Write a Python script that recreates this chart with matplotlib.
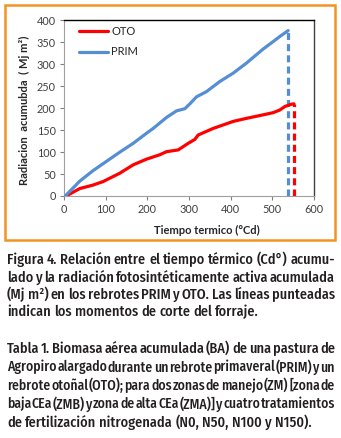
import matplotlib
matplotlib.use("Agg")
import matplotlib.pyplot as plt
from matplotlib.patches import Rectangle

W, H = 341, 438

# ---- data ----
prim_x = [3, 38, 70, 102, 134, 166, 198, 214, 246, 270, 290, 302, 318, 342, 374, 406, 438, 478, 502, 520, 538]
prim_y = [0, 34, 58, 79, 100, 120, 143, 154, 179, 194, 199, 210, 226, 238, 261, 280, 303, 335, 352, 365, 377]
oto_x = [5, 38, 70, 94, 134, 166, 198, 230, 246, 274, 298, 314, 322, 358, 406, 438, 478, 502, 518, 530, 545, 552]
oto_y = [0, 17, 25, 33, 52, 71, 84, 94, 101, 105, 120, 129, 139, 154, 170, 177, 185, 190, 196, 204, 209, 210]
cut_series = ["OTO", "PRIM"]
cut_x = [552, 538]
cut_y = [210, 377]
x_ticks = [0, 100, 200, 300, 400, 500, 600]
y_ticks = [0, 50, 100, 150, 200, 250, 300, 350, 400]

caption1 = [
    "Figura 4. Relación entre el tiempo térmico (Cd°) acumu-",
    "lado y la radiación fotosintéticamente activa acumulada",
    "(Mj m²) en los rebrotes PRIM y OTO. Las líneas punteadas",
    "indican los momentos de corte del forraje.",
]
caption2 = [
    "Tabla 1. Biomasa aérea acumulada (BA) de una pastura de",
    "Agropiro alargado durante un rebrote primaveral (PRIM) y un",
    "rebrote otoñal (OTO); para dos zonas de manejo (ZM) [zona de",
    "baja CEa (ZMB) y zona de alta CEa (ZMA)] y cuatro tratamientos",
    "de fertilización nitrogenada (N0, N50, N100 y N150).",
]

RED = "#FF0000"
BLUE = "#558ED5"
ORANGE = "#F39322"
tickfont = ["Lato", "DejaVu Sans"]

fig = plt.figure(figsize=(W / 100, H / 100), dpi=100)
fig.patch.set_facecolor("white")

# orange border
fig.patches.append(Rectangle((5 / W, 1 - 240 / H), 330 / W, 235 / H,
                             transform=fig.transFigure, fill=False,
                             edgecolor=ORANGE, linewidth=1.8))

ax = fig.add_axes([64 / W, 1 - 196 / H, 250 / W, 175.5 / H])
ax.plot(oto_x, oto_y, color=RED, lw=2.3, solid_capstyle="round", label="OTO", zorder=3)
ax.plot(prim_x, prim_y, color=BLUE, lw=2.3, solid_capstyle="round", label="PRIM", zorder=3)
colors = {"OTO": RED, "PRIM": BLUE}
for s, cx, cy in zip(cut_series, cut_x, cut_y):
    ax.plot([cx, cx], [0, cy], color=colors[s], lw=2.3, ls=(0, (2.2, 1.3)), zorder=2)

ax.set_xlim(0, 600)
ax.set_ylim(0, 400)
ax.set_xticks(x_ticks)
ax.set_yticks(y_ticks)
ax.tick_params(axis="both", colors="#808080", labelcolor="#404040", length=3,
               width=0.8, labelsize=7.8, pad=3)
for lab in ax.get_xticklabels() + ax.get_yticklabels():
    lab.set_family(tickfont)
ax.spines["top"].set_color("black")
ax.spines["top"].set_linewidth(1.0)
ax.spines["right"].set_color("#404040")
ax.spines["right"].set_linewidth(1.0)
ax.spines["left"].set_color("#A0A0A0")
ax.spines["bottom"].set_color("#A0A0A0")

ax.set_xlabel("Tiempo termico (°Cd)", fontsize=8, fontweight="bold",
              family=tickfont, color="#262626")
ax.xaxis.set_label_coords((207 - 64) / 250, -(230 - 196) / 175.5)
ax.xaxis.label.set_va("center")
ax.set_ylabel("Radiacion  acumubda  ( Mj m²)", fontsize=8, fontweight="bold",
              family=tickfont, color="#262626")
ax.yaxis.set_label_coords(-(64 - 24) / 250, 0.49)
ax.yaxis.label.set_va("center")

leg = ax.legend(loc="upper left", bbox_to_anchor=(15 / 250, (196 - 26) / 175.5),
                frameon=False, handlelength=2.6, handletextpad=0.3,
                labelspacing=0.85, borderaxespad=0, borderpad=0,
                prop={"family": tickfont, "size": 8})
for t in leg.get_texts():
    t.set_color("#262626")

# ---- justified captions ----
cap_font = ["Fira Sans Condensed", "PT Sans Narrow", "DejaVu Sans"]
cap_weight = 500
cap_color = "#231F20"
fig.canvas.draw()
r = fig.canvas.get_renderer()
X0, X1 = 7.0, 335.0


def width_of(txt, fs):
    t = fig.text(0, 0, txt, fontsize=fs, family=cap_font, fontweight=cap_weight)
    w = t.get_window_extent(r).width
    t.remove()
    return w


def place(line, y_px, justify, fs):
    words = line.split(" ")
    sp = width_of("a a", fs) - width_of("aa", fs)
    ws = [width_of(w, fs) for w in words]
    min_gap = 0.2 * sp
    if sum(ws) + min_gap * (len(words) - 1) > (X1 - X0):
        fs = fs * (X1 - X0) / (sum(ws) + min_gap * (len(words) - 1))
        sp = width_of("a a", fs) - width_of("aa", fs)
        ws = [width_of(w, fs) for w in words]
    if justify and len(words) > 1:
        gap = ((X1 - X0) - sum(ws)) / (len(words) - 1)
    else:
        gap = sp
    x = X0
    for w, ww in zip(words, ws):
        fig.text(x / W, 1 - y_px / H, w, fontsize=fs, family=cap_font,
                 fontweight=cap_weight, color=cap_color, va="baseline", ha="left")
        x += ww + gap


FS = 10.3
for i, (line, y) in enumerate(zip(caption1, [264, 281.5, 299, 316.5])):
    place(line, y, i < len(caption1) - 1, FS)
for i, (line, y) in enumerate(zip(caption2, [353, 371.5, 390, 408.5, 427])):
    place(line, y, i < len(caption2) - 1, FS)

fig.savefig("out.png", dpi=100)
